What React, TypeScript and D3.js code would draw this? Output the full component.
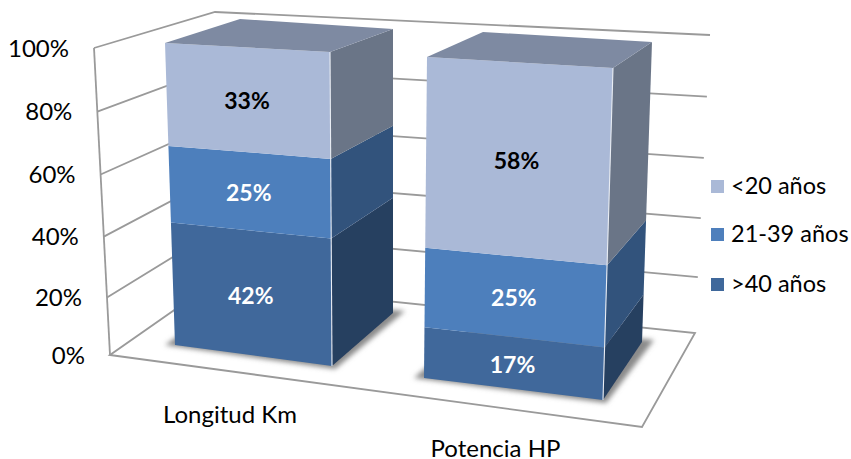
import React from "react";
import * as d3 from "d3";

const categories = ["Longitud Km", "Potencia HP"];
const seriesNames = [">40 años", "21-39 años", "<20 años"];
const over40 = [42, 17];
const from21to39 = [25, 25];
const under20 = [33, 58];
const seriesValues = [over40, from21to39, under20];
const ticks = [0, 20, 40, 60, 80, 100];

const frontColors = ["#3F689B", "#4E7FBC", "#AAB9D7"];
const sideColors = ["#273F60", "#30527C", "#6A7587"];
const topColor = "#7E8AA2";
const labelColors = ["#fff", "#fff", "#000"];
const gridColor = "#9a9a9a";
const FONT = "Lato, Carlito, sans-serif";

type P = [number, number];
type Edge = [P, P]; // position at 0% and at 100%

// Perspective anchors of the 3D box
const wallFrontLeft: Edge = [[110, 355], [94, 48]];
const wallBackLeft: Edge = [[213, 283], [215, 12]];
const wallBackRight: Edge = [[695, 333], [710, 35]];
const floorFrontRight: P = [642, 427];

const barEdges: { fl: Edge; fr: Edge; br: Edge; bl: Edge }[] = [
  { fl: [[175, 345], [165, 43]], fr: [[332, 366], [330, 52]], br: [[393, 313], [393, 29]], bl: [[236, 296], [240, 19]] },
  { fl: [[424, 378], [427, 57]], fr: [[603, 400], [613, 68]], br: [[642, 342], [652, 42]], bl: [[478, 322], [483, 32]] },
];

const categoryPos: P[] = [[230, 423], [495.5, 456.5]];
const legendX = 711;
const legendY = [284, 234, 186];

const project = (e: Edge) => {
  const x = d3.scalePow().exponent(1.04).domain([0, 100]).range([e[0][0], e[1][0]]);
  const y = d3.scalePow().exponent(1.04).domain([0, 100]).range([e[0][1], e[1][1]]);
  return (v: number): P => [x(v), y(v)];
};
const poly = d3.line<P>().curve(d3.curveLinearClosed);
const path = d3.line<P>();

export default function App() {
  const wl = project(wallFrontLeft);
  const wb = project(wallBackLeft);
  const wr = project(wallBackRight);

  return (
    <svg width={851} height={459} style={{ position: "absolute", left: 0, top: 0, background: "#fff" }} fontFamily={FONT}>
      <defs>
        <filter id="soft" x="-30%" y="-30%" width="160%" height="160%">
          <feGaussianBlur stdDeviation="2.5" />
        </filter>
        <filter id="tiny"><feGaussianBlur stdDeviation="0.35" /></filter>
      </defs>

      {/* walls, floor, gridlines */}
      <g fill="none" stroke={gridColor} strokeWidth={1.8} filter="url(#tiny)">
        <path d={poly([wl(0), floorFrontRight, wr(0), wb(0)]) ?? ""} fill="#fff" />
        <path d={path([wl(0), wl(100)]) ?? ""} />
        {ticks.filter((t) => t > 0).map((t) => (
          <path key={t} d={path([wl(t), wb(t), wr(t)]) ?? ""} />
        ))}
      </g>

      {/* axis labels */}
      {ticks.map((t) => (
        <text key={t} x={wl(t)[0] - 25} y={wl(t)[1] + 8.5} textAnchor="end" fontSize={24} fill="#000">
          {t}%
        </text>
      ))}

      {/* bars */}
      {barEdges.map((edges, i) => {
        const fl = project(edges.fl), fr = project(edges.fr), br = project(edges.br), bl = project(edges.bl);
        const stack = d3.cumsum(seriesValues.map((s) => s[i]));
        const base = (k: number) => (k === 0 ? 0 : stack[k - 1]);
        const total = stack[stack.length - 1];
        return (
          <g key={categories[i]}>
            {/* shadow */}
            <path
              d={poly([
                [fl(0)[0] - 10, fl(0)[1]],
                [fr(0)[0] + 3, fr(0)[1] + 3],
                [br(0)[0] + 12, br(0)[1] - 2],
                [bl(0)[0], bl(0)[1]],
              ]) ?? ""}
              fill="#8a8a8a"
              filter="url(#soft)"
            />
            <g filter="url(#tiny)">
              {seriesValues.map((_, k) => {
                const a = base(k), b = stack[k];
                return (
                  <g key={k}>
                    <path d={poly([fl(a), fr(a), fr(b), fl(b)]) ?? ""} fill={frontColors[k]} />
                    <path d={poly([fr(a), br(a), br(b), fr(b)]) ?? ""} fill={sideColors[k]} />
                  </g>
                );
              })}
              <path d={poly([fl(total), fr(total), br(total), bl(total)]) ?? ""} fill={topColor} />
              <g fill="none" stroke="#e9edf4" strokeWidth={1.5}>
                {stack.map((v) => (
                  <path key={v} d={path([fl(v), fr(v), br(v)]) ?? ""} />
                ))}
                <path d={path([fr(0), fr(total)]) ?? ""} strokeWidth={1.1} />
              </g>
            </g>
            {seriesValues.map((s, k) => {
              const mid = base(k) + s[i] / 2;
              const l = fl(mid), r = fr(mid);
              return (
                <text
                  key={k}
                  x={(l[0] + r[0]) / 2 - 1.5}
                  y={(l[1] + r[1]) / 2 + 9}
                  textAnchor="middle"
                  fontSize={23}
                  fontWeight={700}
                  fill={labelColors[k]}
                >
                  {s[i]}%
                </text>
              );
            })}
            <text x={categoryPos[i][0]} y={categoryPos[i][1]} textAnchor="middle" fontSize={24} fill="#000">
              {categories[i]}
            </text>
          </g>
        );
      })}

      {/* legend */}
      {seriesNames.map((name, k) => (
        <g key={name}>
          <rect x={legendX} y={legendY[k] - 6} width={13} height={13} fill={frontColors[k]} />
          <text x={legendX + 20} y={legendY[k]} dy={8} fontSize={23.5} fill="#000">
            {name}
          </text>
        </g>
      ))}
    </svg>
  );
}
